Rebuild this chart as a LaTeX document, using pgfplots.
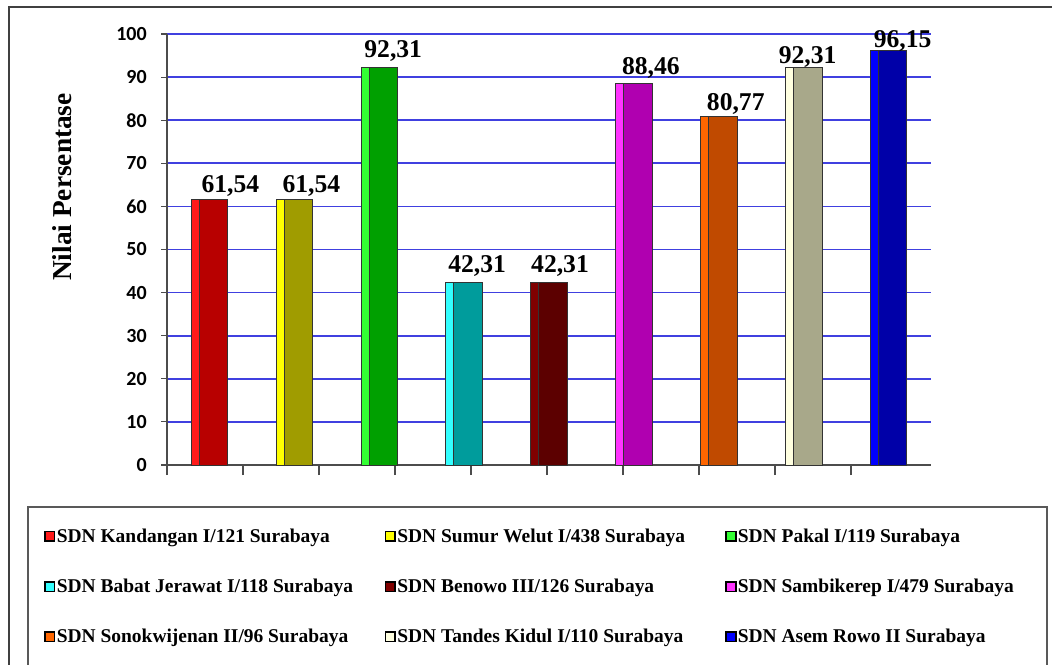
\documentclass[border=0pt]{standalone}
\usepackage{pgfplots}
\pgfplotsset{compat=1.18}
\usepackage{fontspec}
\setmainfont{Liberation Serif}
\newfontfamily\tickfont{Carlito}
\definecolor{gridblue}{RGB}{64,64,224}
\definecolor{rS}{HTML}{FF1A1A}\definecolor{rM}{HTML}{B80000}
\definecolor{yS}{HTML}{FFFF00}\definecolor{yM}{HTML}{A09C00}
\definecolor{gS}{HTML}{33FF33}\definecolor{gM}{HTML}{00A000}
\definecolor{cS}{HTML}{33FFFF}\definecolor{cM}{HTML}{009C9C}
\definecolor{mS}{HTML}{800000}\definecolor{mM}{HTML}{5C0000}
\definecolor{pS}{HTML}{FF33FF}\definecolor{pM}{HTML}{B000B0}
\definecolor{oS}{HTML}{FF6600}\definecolor{oM}{HTML}{C04A00}
\definecolor{tS}{HTML}{FFFFE0}\definecolor{tM}{HTML}{A8A88A}
\definecolor{bS}{HTML}{0000FF}\definecolor{bM}{HTML}{0000A8}
\pgfplotsset{
  sq legend/.style={legend image code/.code={\draw[##1,draw=black,line width=1.2pt] (0pt,-3.6pt) rectangle (7.2pt,3.6pt);}},
  mainbar/.style={ybar, bar width=27.4pt, bar shift=0pt, fill=#1, draw=black!80, line width=0.6pt, forget plot,
    nodes near coords, point meta=explicit symbolic},
  stripe/.style={ybar, bar width=6pt, bar shift=-10.7pt, fill=#1, draw=black!80, line width=0.6pt, sq legend},
  lab/.style 2 args={every node near coord/.append style={xshift=#1, yshift=#2}},
}
\begin{document}
\begin{tikzpicture}
\path[use as bounding box] (0,0) rectangle (789pt,498pt);
\draw[black!75, line width=1.5pt] (6.75pt,-5pt) -- (6.75pt,492.75pt) -- (800pt,492.75pt);
\draw[black!65, line width=1.2pt] (21pt,-5pt) -- (21pt,117.75pt) -- (785.25pt,117.75pt) -- (785.25pt,-5pt);
\begin{axis}[
  at={(125.25pt,149.25pt)}, anchor=south west,
  scale only axis, width=573pt, height=323.25pt,
  xmin=-0.5, xmax=8.5, ymin=0, ymax=100,
  axis lines*=left,
  axis line style={black!70, line width=1.3pt},
  ytick={0,10,...,100},
  xtick=\empty,
  extra x ticks={-0.5,0.3953,1.2906,2.1859,3.0812,3.9765,4.8718,5.7671,6.6624,7.5577},
  extra x tick labels={},
  extra x tick style={grid=none, major tick length=7.5pt},
  tick align=outside,
  major tick length=4.5pt,
  tick style={black!70, line width=0.8pt},
  ymajorgrids,
  grid style={color=gridblue, line width=1.3pt},
  yticklabel style={font=\tickfont\bfseries\fontsize{15}{15}\selectfont, inner sep=0pt, xshift=-10.5pt},
  /pgf/number format/assume math mode=true,
  ylabel={Nilai Persentase},
  ylabel style={font=\bfseries\fontsize{20.5}{22}\selectfont, at={(axis description cs:-0.1368,0.645)}, anchor=center},
  nodes near coords style={font=\bfseries\fontsize{19.2}{20}\selectfont, anchor=base, black},
  legend columns=3,
  legend cell align=left,
  legend style={at={(axis description cs:-0.161,-0.1439)}, anchor=north west, draw=none, fill=none, inner sep=0pt,
    font=\bfseries\fontsize{14.6}{16}\selectfont, row sep=24pt, nodes={inner sep=1pt}},
]
\addplot[mainbar=rM, lab={15.75pt}{5.25pt}] coordinates {(0,61.54) [61,54]};
\addplot[stripe=rS] coordinates {(0,61.54)};
\addlegendentry{\makebox[245pt][l]{SDN Kandangan I/121 Surabaya}}
\addplot[mainbar=yM, lab={12.75pt}{5.25pt}] coordinates {(1,61.54) [61,54]};
\addplot[stripe=yS] coordinates {(1,61.54)};
\addlegendentry{\makebox[245pt][l]{SDN Sumur Welut I/438 Surabaya}}
\addplot[mainbar=gM, lab={10.5pt}{7.5pt}] coordinates {(2,92.31) [92,31]};
\addplot[stripe=gS] coordinates {(2,92.31)};
\addlegendentry{\makebox[245pt][l]{SDN Pakal I/119 Surabaya}}
\addplot[mainbar=cM, lab={9.75pt}{7.5pt}] coordinates {(3,42.31) [42,31]};
\addplot[stripe=cS] coordinates {(3,42.31)};
\addlegendentry{\makebox[245pt][l]{SDN Babat Jerawat I/118 Surabaya}}
\addplot[mainbar=mM, lab={8.25pt}{7.5pt}] coordinates {(4,42.31) [42,31]};
\addplot[stripe=mS] coordinates {(4,42.31)};
\addlegendentry{\makebox[245pt][l]{SDN Benowo III/126 Surabaya}}
\addplot[mainbar=pM, lab={12.75pt}{6.75pt}] coordinates {(5,88.46) [88,46]};
\addplot[stripe=pS] coordinates {(5,88.46)};
\addlegendentry{\makebox[245pt][l]{SDN Sambikerep I/479 Surabaya}}
\addplot[mainbar=oM, lab={12.75pt}{4.5pt}] coordinates {(6,80.77) [80,77]};
\addplot[stripe=oS] coordinates {(6,80.77)};
\addlegendentry{\makebox[245pt][l]{SDN Sonokwijenan II/96 Surabaya}}
\addplot[mainbar=tM, lab={3pt}{3pt}] coordinates {(7,92.31) [92,31]};
\addplot[stripe=tS] coordinates {(7,92.31)};
\addlegendentry{\makebox[245pt][l]{SDN Tandes Kidul I/110 Surabaya}}
\addplot[mainbar=bM, lab={10.5pt}{2.25pt}] coordinates {(8,96.15) [96,15]};
\addplot[stripe=bS] coordinates {(8,96.15)};
\addlegendentry{\makebox[245pt][l]{SDN Asem Rowo II Surabaya}}
\end{axis}
\end{tikzpicture}
\end{document}
